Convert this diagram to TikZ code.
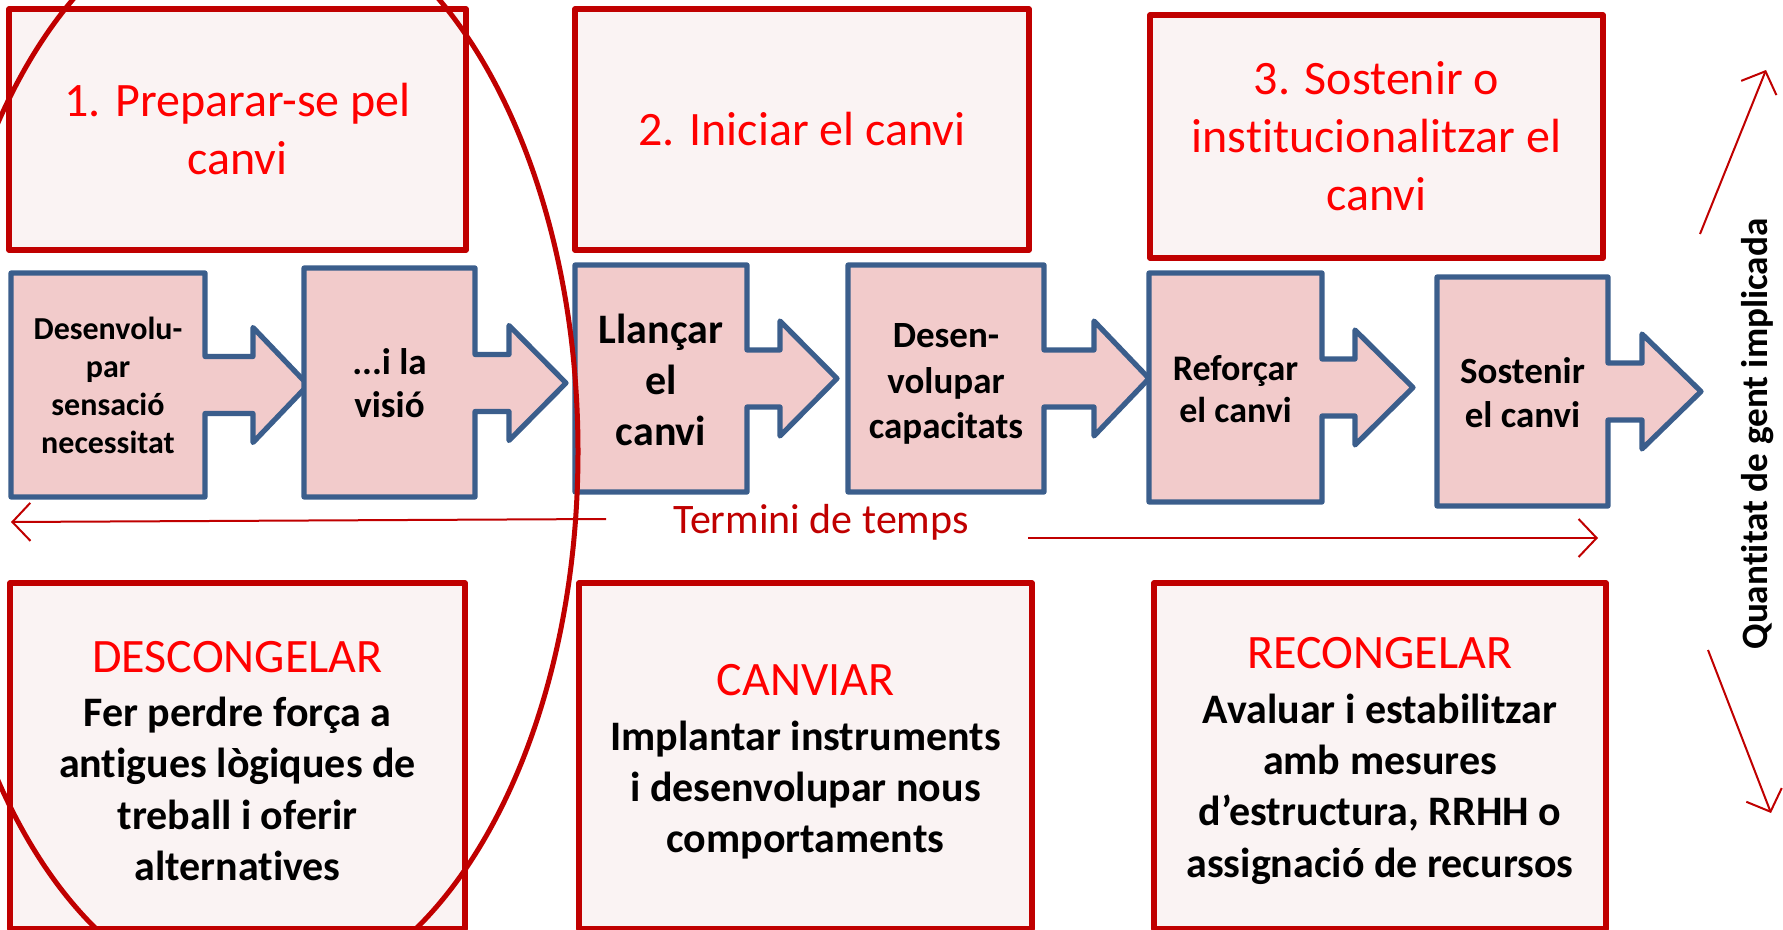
\documentclass[tikz,border=0pt]{standalone}
\usepackage{fontspec}
\setmainfont{Carlito}[Ligatures=NoCommon]
\usetikzlibrary{arrows.meta}
\definecolor{boxred}{HTML}{C00000}
\definecolor{boxfill}{HTML}{FAF3F3}
\definecolor{titlered}{HTML}{FF0000}
\definecolor{arrblue}{HTML}{3B5E8C}
\definecolor{arrfill}{HTML}{F2CBCB}
\tikzset{
  redbox/.style={draw=boxred, line width=2.75pt, fill=boxfill, line join=round, align=center, inner sep=0pt},
  toptext/.style={text=titlered, font=\fontsize{24}{29}\selectfont},
  bottext/.style={text=black, align=center, inner sep=0pt, font=\fontsize{21}{25.7}\selectfont\bfseries},
  bluearr/.style={draw=arrblue, fill=arrfill, line width=2.6pt, line join=round},
  atext/.style={align=center, inner sep=0pt, text=black},
  thinarr/.style={draw=boxred, line width=1pt, -{Straight Barb[length=9pt,width=19pt,line width=1pt]}},
}
\newcommand\calloutarrow[7]{%
  \draw[bluearr] (#1,#2) -- (#3,#2) -- (#3,#5-28.5) -- (#6,#5-28.5) -- (#6,#5-57.5) -- (#7,#5)
    -- (#6,#5+57.5) -- (#6,#5+28.5) -- (#3,#5+28.5) -- (#3,#4) -- (#1,#4) -- cycle;}
\newcommand\hd[1]{{\mdseries\fontsize{24}{25.7}\selectfont\color{titlered}#1}}
\begin{document}
\begin{tikzpicture}[x=0.5pt, y=-0.5pt]
\useasboundingbox (0,0) rectangle (1783,930);
\fill[white] (0,0) rectangle (1783,930);

% top boxes
\node[redbox, toptext, minimum width=228.5pt, minimum height=120.5pt] (t1) at (237.5,129.5) {1. Preparar-se pel\\canvi};
\node[redbox, toptext, minimum width=227pt, minimum height=120.5pt] (t2) at (802,129.5) {2. Iniciar el canvi};
\node[redbox, toptext, minimum width=226.5pt, minimum height=121.5pt] (t3) at (1376.5,136.5) {3. Sostenir o\\institucionalitzar el\\canvi};

% bottom boxes
\node[redbox, minimum width=227.5pt, minimum height=173pt] (b1) at (237.5,756) {};
\node[redbox, minimum width=226.5pt, minimum height=173pt] (b2) at (805.5,756) {};
\node[redbox, minimum width=226pt, minimum height=173pt] (b3) at (1380,756) {};
\node[bottext] (b1t) at (237.5,761) {\hd{DESCONGELAR}\\[1.5pt]Fer perdre força a\\antigues lògiques de\\treball i oferir\\alternatives};
\node[bottext] (b2t) at (805.5,762) {\hd{CANVIAR}\\[1.5pt]Implantar instruments\\i desenvolupar nous\\comportaments};
\node[bottext] (b3t) at (1380,761) {\hd{RECONGELAR}\\[1.5pt]Avaluar i estabilitzar\\amb mesures\\d’estructura, RRHH o\\assignació de recursos};

% blue callout arrows
\calloutarrow{11}{273}{205}{497}{385}{253}{308}
\calloutarrow{304}{268}{475}{497}{383}{509}{566}
\calloutarrow{575}{265}{747}{492}{378.5}{780}{837}
\calloutarrow{848}{265}{1044}{492}{378.5}{1094}{1149}
\calloutarrow{1149}{273}{1322}{502}{387.5}{1355}{1413}
\calloutarrow{1437}{277}{1608}{506}{391.5}{1642}{1701}

\node[atext, font=\fontsize{16}{19}\selectfont\bfseries] (a1) at (108,385) {Desenvolu-\\par\\sensació\\necessitat};
\node[atext, font=\fontsize{18.5}{21.6}\selectfont\bfseries] (a2) at (389.5,383) {...i la\\visió};
\node[atext, font=\fontsize{21}{25.5}\selectfont\bfseries] (a3) at (661,380) {Llançar\\el\\canvi};
\node[atext, font=\fontsize{18.5}{22.7}\selectfont\bfseries] (a4) at (946,384) {Desen-\\volupar\\capacitats};
\node[atext, font=\fontsize{18}{21}\selectfont\bfseries] (a5) at (1235.5,389) {Reforçar\\el canvi};
\node[atext, font=\fontsize{18.5}{22}\selectfont\bfseries] (a6) at (1522.5,393) {Sostenir\\el canvi};

% time axis
\node[text=boxred, font=\fontsize{21}{25}\selectfont, anchor=base, inner sep=0pt] (term) at (821,533) {Termini de temps};
\coordinate (tl1) at (606,519);
\coordinate (tl2) at (11,522);
\coordinate (tr1) at (1028,538);
\coordinate (tr2) at (1598,538);
\draw[thinarr] (tl1) -- (tl2);
\draw[thinarr] (tr1) -- (tr2);

% people axis
\node[rotate=90, anchor=base, inner sep=0pt, font=\fontsize{18.6}{22}\selectfont\bfseries] (qg) at (1767,434) {Quantitat de gent implicada};
\coordinate (u1) at (1700,234);
\coordinate (u2) at (1766,70);
\coordinate (d1) at (1708,650);
\coordinate (d2) at (1771,813);
\draw[thinarr] (u1) -- (u2);
\draw[thinarr] (d1) -- (d2);

% ellipse
\draw[boxred, line width=2.5pt] (256,451.6) ellipse [x radius=161pt, y radius=274.8pt];
\end{tikzpicture}
\end{document}
